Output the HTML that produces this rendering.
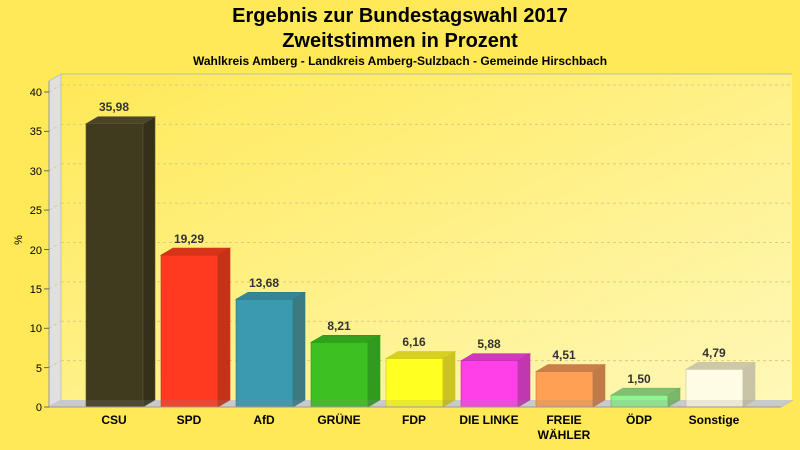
<!DOCTYPE html>
<html><head><meta charset="utf-8"><style>
html,body{margin:0;padding:0;background:#ffe957;}
svg{display:block;font-family:"Liberation Sans",Arial,sans-serif;}
</style></head><body>
<svg width="800" height="450" viewBox="0 0 800 450">
<defs>
<linearGradient id="bg" x1="0" y1="0" x2="1" y2="1">
<stop offset="0" stop-color="#ffe957"/><stop offset="1" stop-color="#fff8b8"/>
</linearGradient>
</defs>
<rect width="800" height="450" fill="#ffe957"/>
<text x="400" y="22" text-anchor="middle" font-size="20" font-weight="bold">Ergebnis zur Bundestagswahl 2017</text>
<text x="400" y="47" text-anchor="middle" font-size="20" font-weight="bold">Zweitstimmen in Prozent</text>
<text x="400" y="65" text-anchor="middle" font-size="12" font-weight="bold">Wahlkreis Amberg - Landkreis Amberg-Sulzbach - Gemeinde Hirschbach</text>
<rect x="61" y="74" width="731" height="326" fill="url(#bg)"/>
<line x1="61" y1="74" x2="792" y2="74" stroke="#bbb" stroke-width="1"/>
<polygon points="49,81 61,74 61,400 49,407" fill="#e0e0e0" stroke="#bbb" stroke-width="0.8"/>
<g stroke="#d8cc88" stroke-dasharray="3,3" stroke-width="1">
<line x1="61" y1="85" x2="792" y2="85"/><line x1="49" y1="92" x2="61" y2="85"/>
<line x1="61" y1="124.4" x2="792" y2="124.4"/><line x1="49" y1="131.4" x2="61" y2="124.4"/>
<line x1="61" y1="163.8" x2="792" y2="163.8"/><line x1="49" y1="170.8" x2="61" y2="163.8"/>
<line x1="61" y1="203.1" x2="792" y2="203.1"/><line x1="49" y1="210.1" x2="61" y2="203.1"/>
<line x1="61" y1="242.5" x2="792" y2="242.5"/><line x1="49" y1="249.5" x2="61" y2="242.5"/>
<line x1="61" y1="281.9" x2="792" y2="281.9"/><line x1="49" y1="288.9" x2="61" y2="281.9"/>
<line x1="61" y1="321.3" x2="792" y2="321.3"/><line x1="49" y1="328.3" x2="61" y2="321.3"/>
<line x1="61" y1="360.6" x2="792" y2="360.6"/><line x1="49" y1="367.6" x2="61" y2="360.6"/>
</g>
<polygon points="49,407 61,400 793,400 781,407" fill="#d8d8d8"/>
<line x1="49" y1="81" x2="49" y2="407" stroke="#999"/>
<g stroke="#666"><line x1="44" y1="407" x2="49" y2="407"/><line x1="44" y1="367.6" x2="49" y2="367.6"/><line x1="44" y1="328.3" x2="49" y2="328.3"/><line x1="44" y1="288.9" x2="49" y2="288.9"/><line x1="44" y1="249.5" x2="49" y2="249.5"/><line x1="44" y1="210.1" x2="49" y2="210.1"/><line x1="44" y1="170.8" x2="49" y2="170.8"/><line x1="44" y1="131.4" x2="49" y2="131.4"/><line x1="44" y1="92" x2="49" y2="92"/></g>
<g font-size="11" text-anchor="end">
<text x="42" y="411">0</text><text x="42" y="372">5</text><text x="42" y="332">10</text><text x="42" y="293">15</text><text x="42" y="254">20</text><text x="42" y="214">25</text><text x="42" y="175">30</text><text x="42" y="135">35</text><text x="42" y="96">40</text>
</g>
<text x="22" y="240" font-size="11" transform="rotate(-90 22 240)" text-anchor="middle">%</text>
<g stroke-width="0.6">
<g stroke="#5a5530"><rect x="86" y="123.7" width="57" height="283.3" fill="#403a1f"/><polygon points="86,123.7 98,116.7 155,116.7 143,123.7" fill="#4a4525"/><polygon points="143,123.7 155,116.7 155,400 143,407" fill="#35301a"/></g>
<g stroke="#c8301a"><rect x="161" y="255.1" width="57" height="151.9" fill="#ff3a20"/><polygon points="161,255.1 173,248.1 230,248.1 218,255.1" fill="#d83418"/><polygon points="218,255.1 230,248.1 230,400 218,407" fill="#c43218"/></g>
<g stroke="#2f7a8a"><rect x="236" y="299.3" width="57" height="107.7" fill="#3a9ab0"/><polygon points="236,299.3 248,292.3 305,292.3 293,299.3" fill="#358596"/><polygon points="293,299.3 305,292.3 305,400 293,407" fill="#3a7a80"/></g>
<g stroke="#2a9a18"><rect x="311" y="342.3" width="57" height="64.7" fill="#3cc022"/><polygon points="311,342.3 323,335.3 380,335.3 368,342.3" fill="#35a01e"/><polygon points="368,342.3 380,335.3 380,400 368,407" fill="#329a1e"/></g>
<g stroke="#c8c818"><rect x="386" y="358.5" width="57" height="48.5" fill="#ffff22"/><polygon points="386,358.5 398,351.5 455,351.5 443,358.5" fill="#d8d020"/><polygon points="443,358.5 455,351.5 455,400 443,407" fill="#ccc420"/></g>
<g stroke="#c030b0"><rect x="461" y="360.7" width="57" height="46.3" fill="#ff40e8"/><polygon points="461,360.7 473,353.7 530,353.7 518,360.7" fill="#d038c0"/><polygon points="518,360.7 530,353.7 530,400 518,407" fill="#c038b0"/></g>
<g stroke="#c07a40"><rect x="536" y="371.5" width="57" height="35.5" fill="#ffa055"/><polygon points="536,371.5 548,364.5 605,364.5 593,371.5" fill="#c88048"/><polygon points="593,371.5 605,364.5 605,400 593,407" fill="#c07a48"/></g>
<g stroke="#70b060"><rect x="611" y="395.2" width="57" height="11.8" fill="#90f590"/><polygon points="611,395.2 623,388.2 680,388.2 668,395.2" fill="#80c070"/><polygon points="668,395.2 680,388.2 680,400 668,407" fill="#78b868"/></g>
<g stroke="#c8c4a8"><rect x="686" y="369.3" width="57" height="37.7" fill="#fffce6"/><polygon points="686,369.3 698,362.3 755,362.3 743,369.3" fill="#cfc8a8"/><polygon points="743,369.3 755,362.3 755,400 743,407" fill="#c8c4a8"/></g>
</g>
<polygon points="49,407 61,400 793,400 781,407" fill="#888" opacity="0.18"/>
<line x1="49" y1="407" x2="781" y2="407" stroke="#999"/>
<line x1="781" y1="407" x2="793" y2="400" stroke="#bbb"/>
<g font-size="12" font-weight="bold" fill="#333" text-anchor="middle">
<text x="114" y="111">35,98</text><text x="189" y="243">19,29</text><text x="264" y="287">13,68</text><text x="339" y="330">8,21</text><text x="414" y="346">6,16</text><text x="489" y="348">5,88</text><text x="564" y="359">4,51</text><text x="639" y="383">1,50</text><text x="714" y="357">4,79</text>
</g>
<g font-size="12" font-weight="bold" fill="#000" text-anchor="middle">
<text x="114" y="424">CSU</text><text x="189" y="424">SPD</text><text x="264" y="424">AfD</text><text x="339" y="424">GRÜNE</text><text x="414" y="424">FDP</text><text x="489" y="424">DIE LINKE</text><text x="564" y="424">FREIE</text><text x="564" y="439">WÄHLER</text><text x="639" y="424">ÖDP</text><text x="714" y="424">Sonstige</text>
</g>
</svg>
</body></html>
